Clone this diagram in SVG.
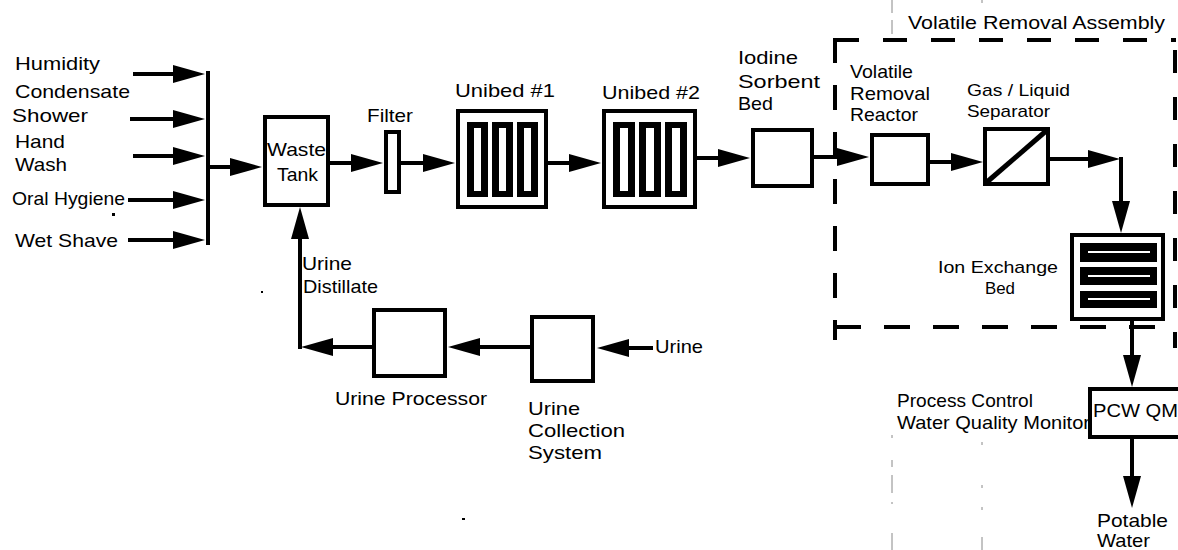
<svg xmlns="http://www.w3.org/2000/svg" width="1178" height="550" viewBox="0 0 1178 550">
<style>
text{font-family:"Liberation Sans",Arial,sans-serif;font-size:19px;fill:#000}
.sm{font-size:17px}
.box{fill:#fff;stroke:#000;stroke-width:4}
.ln{fill:none;stroke:#000;stroke-width:4}
.arr{fill:none;stroke:#000;stroke-width:4;marker-end:url(#ah)}
.bar{fill:#000}
.slot{fill:#fff}
.dash{fill:none;stroke:#000;stroke-width:4}
.fold{fill:none;stroke:#888;stroke-width:1}
</style>
<defs>
<marker id="ah" markerUnits="userSpaceOnUse" markerWidth="34" markerHeight="20" refX="22" refY="10" orient="auto">
<path d="M0,1 L32,10 L0,19 Z" fill="#000"/>
</marker>
</defs>
<rect width="1178" height="550" fill="#fff"/>

<g id="assembly-border">
<line class="dash" x1="835" y1="40" x2="1176" y2="40" stroke-dasharray="24 24"/>
<line class="dash" x1="835" y1="38" x2="835" y2="340" stroke-dasharray="25 22"/>
<line class="dash" x1="835" y1="327" x2="1160" y2="327" stroke-dasharray="26 23"/>
<line class="dash" x1="1175" y1="50" x2="1175" y2="348" stroke-dasharray="23 24"/>
<text x="908" y="29" textLength="257" lengthAdjust="spacingAndGlyphs">Volatile Removal Assembly</text>
</g>

<g id="fold-marks">
<line class="fold" x1="892" y1="0" x2="892" y2="13"/>
<line class="fold" x1="892" y1="20" x2="892" y2="34"/>
<line class="fold" x1="982" y1="0" x2="982" y2="3"/>
<line class="fold" x1="892" y1="435" x2="892" y2="438"/>
<line class="fold" x1="892" y1="460" x2="892" y2="467"/>
<line class="fold" x1="892" y1="475" x2="892" y2="493"/>
<line class="fold" x1="892" y1="502" x2="892" y2="504"/>
<line class="fold" x1="892" y1="533" x2="892" y2="550"/>
<line class="fold" x1="982" y1="442" x2="982" y2="445"/>
<line class="fold" x1="982" y1="485" x2="982" y2="488"/>
<line class="fold" x1="982" y1="507" x2="982" y2="510"/>
<line class="fold" x1="982" y1="537" x2="982" y2="550"/>
<rect x="112" y="213" width="3" height="3" fill="#000"/>
<rect x="261" y="291" width="2" height="2" fill="#000"/>
<rect x="462" y="518" width="3" height="2" fill="#000"/>
</g>

<g id="connectors">
<path class="arr" d="M133,74 H195"/>
<path class="arr" d="M130,119 H195"/>
<path class="arr" d="M133,156 H195"/>
<path class="arr" d="M128,200 H195"/>
<path class="arr" d="M128,240 H195"/>
<path class="ln" d="M208,71 V245" stroke-width="5"/>
<path class="arr" d="M210,167 H252"/>
<path class="arr" d="M330,163 H373"/>
<path class="arr" d="M400,163 H445"/>
<path class="arr" d="M548,163 H591"/>
<path class="arr" d="M697,158 H740"/>
<path class="arr" d="M814,157 H859"/>
<path class="arr" d="M930,162 H973"/>
<path class="arr" d="M1050,159 H1110"/>
<path class="arr" d="M1121,157 V223"/>
<path class="arr" d="M1132,320 V377"/>
<path class="arr" d="M1132,438 V498"/>
<path class="arr" d="M653,348 H607"/>
<path class="arr" d="M530,347 H458"/>
<path class="arr" d="M372,347 H311"/>
<path class="arr" d="M300,349 V217"/>
</g>

<g id="inputs">
<text x="15" y="70" textLength="85" lengthAdjust="spacingAndGlyphs">Humidity</text>
<text x="15" y="98" textLength="115" lengthAdjust="spacingAndGlyphs">Condensate</text>
<text x="12" y="122" textLength="76" lengthAdjust="spacingAndGlyphs">Shower</text>
<text x="15" y="148" textLength="50" lengthAdjust="spacingAndGlyphs">Hand</text>
<text x="15" y="171" textLength="52" lengthAdjust="spacingAndGlyphs">Wash</text>
<text x="12" y="205" textLength="113" lengthAdjust="spacingAndGlyphs">Oral Hygiene</text>
<text x="15" y="247" textLength="103" lengthAdjust="spacingAndGlyphs">Wet Shave</text>
</g>

<g id="waste-tank">
<rect class="box" x="265" y="117" width="63" height="88"/>
<text x="267" y="156" textLength="59" lengthAdjust="spacingAndGlyphs">Waste</text>
<text x="277" y="181" textLength="41" lengthAdjust="spacingAndGlyphs">Tank</text>
</g>

<g id="filter">
<rect class="box" x="386" y="132" width="13" height="60"/>
<text x="367" y="122" textLength="46" lengthAdjust="spacingAndGlyphs">Filter</text>
</g>

<g id="unibed1">
<rect class="box" x="458" y="111" width="88" height="96"/>
<rect class="bar" x="467" y="122" width="21" height="75"/>
<rect class="bar" x="492" y="122" width="21" height="75"/>
<rect class="bar" x="517" y="122" width="21" height="75"/>
<rect class="slot" x="474" y="128" width="7" height="63"/>
<rect class="slot" x="499" y="128" width="7" height="63"/>
<rect class="slot" x="524" y="128" width="7" height="63"/>
<text x="455" y="97" textLength="100" lengthAdjust="spacingAndGlyphs">Unibed #1</text>
</g>

<g id="unibed2">
<rect class="box" x="604" y="111" width="91" height="96"/>
<rect class="bar" x="613" y="122" width="22" height="75"/>
<rect class="bar" x="639" y="122" width="22" height="75"/>
<rect class="bar" x="665" y="122" width="22" height="75"/>
<rect class="slot" x="620" y="128" width="8" height="63"/>
<rect class="slot" x="646" y="128" width="8" height="63"/>
<rect class="slot" x="672" y="128" width="8" height="63"/>
<text x="602" y="99" textLength="98" lengthAdjust="spacingAndGlyphs">Unibed #2</text>
</g>

<g id="iodine-bed">
<rect class="box" x="753" y="130" width="59" height="56"/>
<text x="738" y="64" textLength="60" lengthAdjust="spacingAndGlyphs">Iodine</text>
<text x="738" y="88" textLength="82" lengthAdjust="spacingAndGlyphs">Sorbent</text>
<text x="738" y="110" textLength="35" lengthAdjust="spacingAndGlyphs">Bed</text>
</g>

<g id="vr-reactor">
<rect class="box" x="872" y="135" width="56" height="49"/>
<text x="850" y="78" textLength="63" lengthAdjust="spacingAndGlyphs">Volatile</text>
<text x="850" y="100" textLength="80" lengthAdjust="spacingAndGlyphs">Removal</text>
<text x="850" y="121" textLength="68" lengthAdjust="spacingAndGlyphs">Reactor</text>
</g>

<g id="gl-separator">
<rect class="box" x="985" y="129" width="63" height="55"/>
<line x1="987" y1="182" x2="1046" y2="131" stroke="#000" stroke-width="5"/>
<text class="sm" x="967" y="96" textLength="103" lengthAdjust="spacingAndGlyphs">Gas / Liquid</text>
<text class="sm" x="967" y="117" textLength="83" lengthAdjust="spacingAndGlyphs">Separator</text>
</g>

<g id="ion-exchange">
<rect class="box" x="1072" y="235" width="91" height="84"/>
<rect class="bar" x="1080" y="243" width="77" height="19"/>
<rect class="bar" x="1080" y="267" width="77" height="18"/>
<rect class="bar" x="1080" y="291" width="77" height="17"/>
<line x1="1088" y1="252" x2="1150" y2="252" stroke="#fff" stroke-width="2"/>
<line x1="1088" y1="276" x2="1150" y2="276" stroke="#fff" stroke-width="2"/>
<line x1="1088" y1="299" x2="1150" y2="299" stroke="#fff" stroke-width="2"/>
<text class="sm" x="938" y="273" textLength="120" lengthAdjust="spacingAndGlyphs">Ion Exchange</text>
<text class="sm" x="985" y="294" textLength="30" lengthAdjust="spacingAndGlyphs">Bed</text>
</g>

<g id="pcwqm">
<rect class="box" x="1090" y="389" width="95" height="48"/>
<text x="1093" y="417" textLength="85" lengthAdjust="spacingAndGlyphs">PCW QM</text>
<text x="897" y="407" textLength="136" lengthAdjust="spacingAndGlyphs">Process Control</text>
<text x="897" y="429" textLength="193" lengthAdjust="spacingAndGlyphs">Water Quality Monitor</text>
</g>

<g id="potable-water">
<text x="1097" y="527" textLength="71" lengthAdjust="spacingAndGlyphs">Potable</text>
<text x="1097" y="547" textLength="53" lengthAdjust="spacingAndGlyphs">Water</text>
</g>

<g id="urine-distillate">
<text x="302" y="270" textLength="50" lengthAdjust="spacingAndGlyphs">Urine</text>
<text x="303" y="293" textLength="75" lengthAdjust="spacingAndGlyphs">Distillate</text>
</g>

<g id="urine-processor">
<rect class="box" x="374" y="310" width="71" height="66"/>
<text x="335" y="405" textLength="152" lengthAdjust="spacingAndGlyphs">Urine Processor</text>
</g>

<g id="urine-collection">
<rect class="box" x="532" y="317" width="61" height="64"/>
<text x="528" y="415" textLength="52" lengthAdjust="spacingAndGlyphs">Urine</text>
<text x="528" y="437" textLength="97" lengthAdjust="spacingAndGlyphs">Collection</text>
<text x="528" y="459" textLength="74" lengthAdjust="spacingAndGlyphs">System</text>
</g>

<g id="urine-input">
<text x="655" y="353" textLength="48" lengthAdjust="spacingAndGlyphs">Urine</text>
</g>
</svg>
